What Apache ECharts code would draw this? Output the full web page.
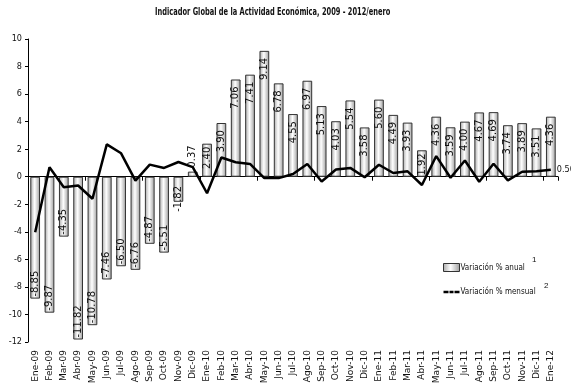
<!DOCTYPE html>
<html>
<head>
<meta charset="utf-8">
<script src="https://cdn.jsdelivr.net/npm/echarts@6/dist/echarts.min.js"></script>
<style>
  html, body { margin: 0; padding: 0; background: #fff; }
  #chart { width: 571px; height: 388px; }
</style>
</head>
<body>
<div id="chart"></div>
<script>
// Month labels, Jan 2009 – Jan 2012
const months = [
  'Ene-09','Feb-09','Mar-09','Abr-09','May-09','Jun-09','Jul-09','Ago-09','Sep-09','Oct-09','Nov-09','Dic-09',
  'Ene-10','Feb-10','Mar-10','Abr-10','May-10','Jun-10','Jul-10','Ago-10','Sep-10','Oct-10','Nov-10','Dic-10',
  'Ene-11','Feb-11','Mar-11','Abr-11','May-11','Jun-11','Jul-11','Ago-11','Sep-11','Oct-11','Nov-11','Dic-11',
  'Ene-12'
];

// Annual % change (bars)
const anual = [
  -8.85, -9.87, -4.35, -11.82, -10.78, -7.46, -6.50, -6.76, -4.87, -5.51, -1.82, 0.37,
  2.40, 3.90, 7.06, 7.41, 9.14, 6.78, 4.55, 6.97, 5.13, 4.03, 5.54, 3.58,
  5.60, 4.49, 3.93, 1.92, 4.36, 3.59, 4.00, 4.67, 4.69, 3.74, 3.89, 3.51,
  4.36
];

// Monthly % change (line)
const mensual = [
  -4.03, 0.69, -0.76, -0.64, -1.60, 2.35, 1.70, -0.28, 0.88, 0.64, 1.07, 0.70,
  -1.20, 1.40, 1.05, 0.93, -0.10, -0.10, 0.20, 0.93, -0.35, 0.52, 0.64, -0.04,
  0.87, 0.27, 0.39, -0.60, 1.50, -0.07, 1.18, -0.36, 0.94, -0.26, 0.36, 0.40,
  0.50
];

const yTicks = { min: -12, max: 10, step: 2 };

const seriesNames = ['Variación % anual', 'Variación % mensual'];
const titleText = 'Indicador Global de la Actividad Económica, 2009 - 2012/enero';

const narrow = "'Liberation Sans Narrow', 'DejaVu Sans Condensed', sans-serif";
const wide = "'DejaVu Sans', Verdana, sans-serif";

const barFill = new echarts.graphic.LinearGradient(0, 0, 1, 0, [
  { offset: 0, color: '#a8a8a8' },
  { offset: 0.45, color: '#ffffff' },
  { offset: 1, color: '#9c9c9c' }
]);

const fmt2 = function (p) { return Number(p.value).toFixed(2); };
const labelBase = { show: true, rotate: 90, fontFamily: wide, fontSize: 10, color: '#111', verticalAlign: 'middle', formatter: fmt2 };

// Value labels run along the bar: near the far end, or outside when the bar is too short
const barData = anual.map(function (v) {
  let label;
  if (v >= 0 && v < 1) {
    label = Object.assign({}, labelBase, { position: 'top', align: 'left', distance: 4 });
  } else if (v >= 0) {
    label = Object.assign({}, labelBase, { position: 'insideTop', align: 'right', distance: v < 3 ? 3 : 7 });
  } else if (v > -2.5) {
    label = Object.assign({}, labelBase, { position: 'insideBottom', align: 'left', distance: -10 });
  } else {
    label = Object.assign({}, labelBase, { position: 'insideBottom', align: 'left', distance: 2 });
  }
  return { value: v, label: label };
});

// Only the latest monthly value carries a label
const lineData = mensual.map(function (v, i) {
  if (i === mensual.length - 1) {
    return {
      value: v,
      label: { show: true, position: 'right', distance: 6, fontFamily: narrow, fontSize: 9, color: '#111', formatter: fmt2 }
    };
  }
  return v;
});

const chart = echarts.init(document.getElementById('chart'), null, { renderer: 'canvas' });
chart.setOption({
  animation: false,
  backgroundColor: '#fff',
  graphic: [
    {
      type: 'text', left: 155, top: 7, scaleX: 0.74,
      style: { text: titleText, font: "bold 10px 'Liberation Sans Narrow', 'DejaVu Sans Condensed', sans-serif", fill: '#111' }
    },
    { type: 'text', left: 532, top: 256, style: { text: '1', font: "8px 'Liberation Sans Narrow', sans-serif", fill: '#111' } },
    { type: 'text', left: 544, top: 282, style: { text: '2', font: "8px 'Liberation Sans Narrow', sans-serif", fill: '#111' } }
  ],
  grid: { left: 28, right: 13, top: 39, bottom: 46, containLabel: false },
  legend: {
    orient: 'vertical', left: 443, top: 263, padding: 0, itemWidth: 16, itemHeight: 8, itemGap: 16,
    textStyle: { fontFamily: narrow, fontSize: 8, color: '#111', padding: [0, 0, 0, -4] },
    data: [
      { name: seriesNames[0], icon: 'rect', itemStyle: { borderColor: '#333', borderWidth: 1 } },
      { name: seriesNames[1], icon: 'path://M0,3h5v2.6h-5z M6,3h4v2.6h-4z M11,3h5v2.6h-5z', itemStyle: { color: '#000' } }
    ]
  },
  xAxis: [
    {
      type: 'category', data: months, position: 'bottom',
      axisLine: { onZero: true, lineStyle: { color: '#000', width: 1 } },
      axisTick: { show: true, length: 4, lineStyle: { color: '#000' } },
      axisLabel: { show: false },
      splitLine: { show: false }
    },
    {
      type: 'category', data: months, position: 'bottom',
      axisLine: { show: false, onZero: false },
      axisTick: { show: false },
      axisLabel: { show: true, rotate: 90, interval: 0, margin: 8, fontFamily: wide, fontSize: 9, color: '#111' },
      splitLine: { show: false }
    }
  ],
  yAxis: {
    type: 'value', min: yTicks.min, max: yTicks.max, interval: yTicks.step,
    axisLine: { show: true, lineStyle: { color: '#000', width: 1 } },
    axisTick: { show: true, length: 3, lineStyle: { color: '#000' } },
    axisLabel: { fontFamily: narrow, fontSize: 9, color: '#111', margin: 6 },
    splitLine: { show: false }
  },
  series: [
    {
      name: seriesNames[0], type: 'bar', xAxisIndex: 0, data: barData,
      barCategoryGap: '32%',
      itemStyle: { color: barFill, borderColor: '#333', borderWidth: 1 }
    },
    {
      name: seriesNames[1], type: 'line', xAxisIndex: 0, data: lineData,
      symbol: 'circle', symbolSize: 0, showSymbol: true, smooth: false,
      lineStyle: { color: '#000', width: 2.5 },
      itemStyle: { color: '#000' },
      z: 5
    }
  ]
});
</script>
</body>
</html>
